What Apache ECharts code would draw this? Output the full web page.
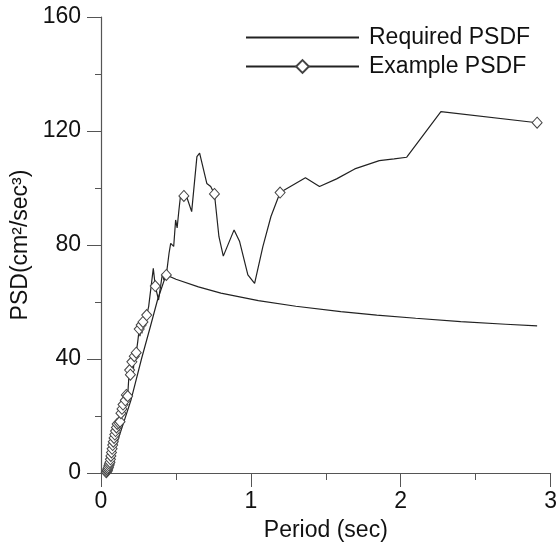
<!DOCTYPE html>
<html>
<head>
<meta charset="utf-8">
<script src="https://cdn.jsdelivr.net/npm/echarts@6/dist/echarts.min.js"></script>
<style>
  html, body { margin: 0; padding: 0; background: #fff; }
  #chart { width: 560px; height: 548px; }
</style>
</head>
<body>
<div id="chart"></div>
<script>
  // Required PSDF (target curve)
  var requiredPeriod = [0.04, 0.1, 0.15, 0.2, 0.27, 0.33, 0.377, 0.434, 0.5, 0.65, 0.8, 1.05, 1.3, 1.6, 1.84, 2.1, 2.4, 2.7, 2.91];
  var requiredPsd = [0, 9.5, 17.5, 25.6, 40, 51.5, 60.7, 69.5, 68.0, 65.3, 63.1, 60.5, 58.5, 56.6, 55.4, 54.3, 53.1, 52.2, 51.6];

  // Example PSDF, with a flag for the points that carry a diamond
  var examplePeriod = [
    0.035, 0.04, 0.043, 0.046, 0.05, 0.053, 0.056, 0.06, 0.063, 0.066,
    0.07, 0.074, 0.078, 0.082, 0.087, 0.092, 0.097, 0.103, 0.108, 0.113,
    0.118, 0.123, 0.127, 0.133, 0.14, 0.147, 0.155, 0.162, 0.169, 0.175,
    0.178, 0.185, 0.191, 0.196, 0.2, 0.206, 0.21, 0.216, 0.222, 0.235,
    0.245, 0.255, 0.26, 0.268, 0.273, 0.28, 0.29, 0.305, 0.318, 0.349,
    0.362, 0.384, 0.41, 0.42, 0.436, 0.454, 0.465, 0.476, 0.485, 0.498,
    0.508, 0.52, 0.53, 0.553, 0.575, 0.605, 0.64, 0.658, 0.706, 0.732,
    0.757, 0.787, 0.816, 0.888, 0.925, 0.98, 1.025, 1.08, 1.134, 1.195,
    1.364, 1.458, 1.572, 1.693, 1.857, 1.956, 2.04, 2.268, 2.91
  ];
  var examplePsd = [
    0.3, 0.6, 1.0, 1.5, 2.0, 2.6, 3.2, 3.8, 4.8, 6.0,
    7.2, 8.5, 9.8, 11.0, 12.3, 13.5, 14.7, 16.0, 17.2, 15.8,
    17.6, 16.5, 18.0, 21.0, 22.5, 24.0, 23.0, 25.5, 27.4, 26.0,
    27.0, 33.0, 36.1, 34.5, 37.0, 39.0, 33.7, 36.0, 41.0, 42.2,
    46.0, 50.5, 48.0, 51.9, 49.0, 53.0, 54.0, 55.4, 58.4, 71.8,
    65.6, 60.7, 70.0, 67.7, 69.5, 77.1, 80.6, 81.2, 79.5, 88.8,
    86.0, 92.3, 97.0, 97.2, 96.4, 91.7, 111.0, 112.2, 101.6, 100.5,
    97.9, 82.9, 76.1, 85.3, 81.2, 69.5, 66.5, 79.4, 90.0, 98.4,
    103.6, 100.5, 103.2, 106.7, 109.6, 110.2, 110.8, 126.8, 122.9
  ];
  var exampleMarked = [
    1, 1, 1, 1, 1, 1, 1, 1, 1, 1,
    1, 1, 1, 1, 1, 1, 1, 1, 1, 0,
    1, 0, 1, 1, 1, 1, 0, 1, 1, 0,
    1, 0, 1, 1, 0, 1, 0, 0, 1, 1,
    0, 1, 0, 1, 0, 1, 0, 1, 0, 0,
    1, 0, 0, 0, 1, 0, 0, 0, 0, 0,
    0, 0, 0, 1, 0, 0, 0, 0, 0, 0,
    1, 0, 0, 0, 0, 0, 0, 0, 0, 1,
    0, 0, 0, 0, 0, 0, 0, 0, 1
  ];

  var xTicks = { min: 0, max: 3, interval: 1 };
  var yTicks = { min: 0, max: 160, interval: 40 };

  var requiredData = requiredPeriod.map(function (p, i) { return [p, requiredPsd[i]]; });
  var exampleData = examplePeriod.map(function (p, i) {
    return { value: [p, examplePsd[i]], symbol: exampleMarked[i] ? 'diamond' : 'none' };
  });

  var axisColor = '#555';
  var font = '"Liberation Sans", Arial, sans-serif';
  var fs = 23;

  var chart = echarts.init(document.getElementById('chart'), null, { renderer: 'canvas' });
  chart.setOption({
    animation: false,
    backgroundColor: '#fff',
    textStyle: { fontFamily: font },
    grid: { left: 101, right: 3, top: 17, bottom: 75, containLabel: false },
    legend: {
      orient: 'vertical',
      left: 245,
      top: 26,
      padding: 0,
      itemWidth: 113,
      itemHeight: 16,
      itemGap: 6,
      textStyle: { fontSize: fs, color: '#111', fontFamily: font, padding: [0, 0, 0, 5] },
      data: [
        { name: 'Required PSDF', itemStyle: { color: 'rgba(0,0,0,0)', borderWidth: 0 } },
        { name: 'Example PSDF' }
      ]
    },
    xAxis: {
      type: 'value',
      min: xTicks.min, max: xTicks.max, interval: xTicks.interval,
      name: 'Period (sec)',
      nameLocation: 'middle',
      nameGap: 46,
      nameTextStyle: { fontSize: fs, color: '#111', fontFamily: font },
      axisLine: { show: true, onZero: false, lineStyle: { color: axisColor, width: 1.2 } },
      axisTick: { show: true, inside: false, length: 14, lineStyle: { color: axisColor } },
      minorTick: { show: true, splitNumber: 2, length: 7, lineStyle: { color: axisColor } },
      axisLabel: { fontSize: fs, color: '#111', margin: 17, fontFamily: font },
      splitLine: { show: false }
    },
    yAxis: {
      type: 'value',
      min: yTicks.min, max: yTicks.max, interval: yTicks.interval,
      name: 'PSD(cm\u00b2/sec\u00b3)',
      nameLocation: 'middle',
      nameGap: 67,
      nameTextStyle: { fontSize: fs, color: '#111', fontFamily: font },
      axisLine: { show: true, onZero: false, lineStyle: { color: axisColor, width: 1.2 } },
      axisTick: { show: true, inside: false, length: 14, lineStyle: { color: axisColor } },
      minorTick: { show: true, splitNumber: 2, length: 6, lineStyle: { color: axisColor } },
      axisLabel: { fontSize: fs, color: '#111', margin: 20, fontFamily: font },
      splitLine: { show: false }
    },
    series: [
      {
        name: 'Required PSDF',
        type: 'line',
        data: requiredData,
        symbol: 'none',
        lineStyle: { color: '#222', width: 1.2 },
        itemStyle: { color: '#222' }
      },
      {
        name: 'Example PSDF',
        type: 'line',
        data: exampleData,
        symbol: 'diamond',
        symbolSize: [10, 11],
        showSymbol: true,
        showAllSymbol: true,
        lineStyle: { color: '#222', width: 1.2 },
        itemStyle: { color: '#fff', borderColor: '#444', borderWidth: 1 }
      }
    ]
  });
</script>
</body>
</html>
